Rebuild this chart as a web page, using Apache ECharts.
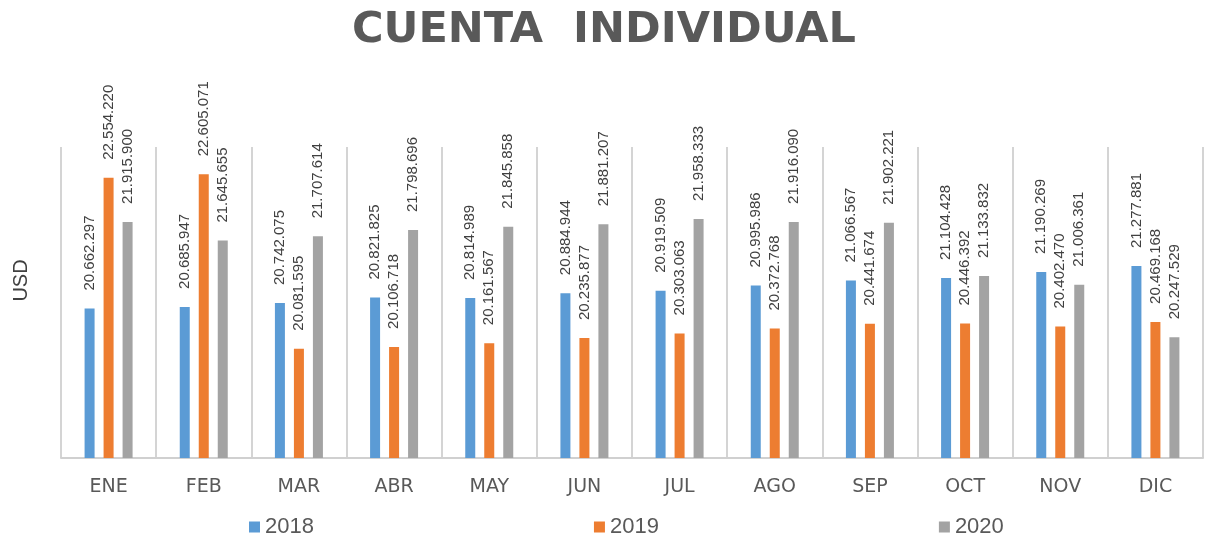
<!DOCTYPE html>
<html>
<head>
<meta charset="utf-8">
<script src="https://cdn.jsdelivr.net/npm/echarts@6/dist/echarts.min.js"></script>
<style>
  html, body { margin: 0; padding: 0; background: #fff; }
  #chart { width: 1208px; height: 543px; }
</style>
</head>
<body>
<div id="chart"></div>
<script>
const months = ['ENE', 'FEB', 'MAR', 'ABR', 'MAY', 'JUN', 'JUL', 'AGO', 'SEP', 'OCT', 'NOV', 'DIC']
const years = ['2018', '2019', '2020']
const values2018 = [20662297, 20685947, 20742075, 20821825, 20814989, 20884944, 20919509, 20995986, 21066567, 21104428, 21190269, 21277881]
const values2019 = [22554220, 22605071, 20081595, 20106718, 20161567, 20235877, 20303063, 20372768, 20441674, 20446392, 20402470, 20469168]
const values2020 = [21915900, 21645655, 21707614, 21798696, 21845858, 21881207, 21958333, 21916090, 21902221, 21133832, 21006361, 20247529]
const colors = ['#5B9BD5', '#ED7D31', '#A3A3A3']

// 20662297 -> 20.662.297
function fmt(v) {
  return String(v).replace(/\B(?=(\d{3})+(?!\d))/g, '.')
}

const chart = echarts.init(document.getElementById('chart'))

const barSeries = [values2018, values2019, values2020].map((vals, i) => ({
  name: years[i],
  type: 'bar',
  barWidth: 10,
  barGap: '90%',
  data: vals,
  itemStyle: { color: colors[i] },
  label: {
    show: true,
    position: 'top',
    rotate: 90,
    align: 'left',
    verticalAlign: 'middle',
    distance: 18,
    fontFamily: '"Liberation Sans", sans-serif',
    fontSize: 15,
    color: '#404040',
    formatter: p => fmt(p.value)
  }
}))

const option = {
  animation: false,
  backgroundColor: '#fff',
  color: colors,
  title: {
    text: 'CUENTA  INDIVIDUAL',
    left: 'center',
    top: 4,
    textStyle: {
      fontFamily: '"DejaVu Sans", sans-serif',
      fontWeight: 'bold',
      fontSize: 43,
      color: '#595959'
    }
  },
  legend: {
    data: years,
    left: 244,
    bottom: 0,
    itemWidth: 11,
    itemHeight: 11,
    itemGap: 280,
    icon: 'rect',
    textStyle: {
      fontFamily: '"Liberation Sans", sans-serif',
      fontSize: 22,
      color: '#595959'
    }
  },
  grid: {
    left: 61,
    right: 5,
    top: 147,
    bottom: 85
  },
  xAxis: {
    type: 'category',
    data: months,
    axisLine: { lineStyle: { color: '#d0d0d0', width: 2 } },
    axisTick: { show: false },
    splitLine: { show: true, lineStyle: { color: '#d4d4d4', width: 2 } },
    axisLabel: {
      margin: 20,
      fontFamily: '"DejaVu Sans", sans-serif',
      fontSize: 19,
      color: '#595959'
    }
  },
  yAxis: {
    type: 'value',
    min: 18500000,
    max: 23000000,
    interval: 500000,
    name: 'USD',
    nameLocation: 'middle',
    nameRotate: 90,
    nameGap: 30,
    nameTextStyle: {
      fontFamily: '"Liberation Sans", sans-serif',
      fontSize: 20,
      color: '#404040',
      padding: [0, 0, 0, 44]
    },
    axisLine: { show: false },
    axisTick: { show: false },
    axisLabel: { show: false },
    splitLine: { show: false }
  },
  series: barSeries
}

chart.setOption(option, true)
window.addEventListener('resize', () => {
  chart.resize()
})
</script>
</body>
</html>
